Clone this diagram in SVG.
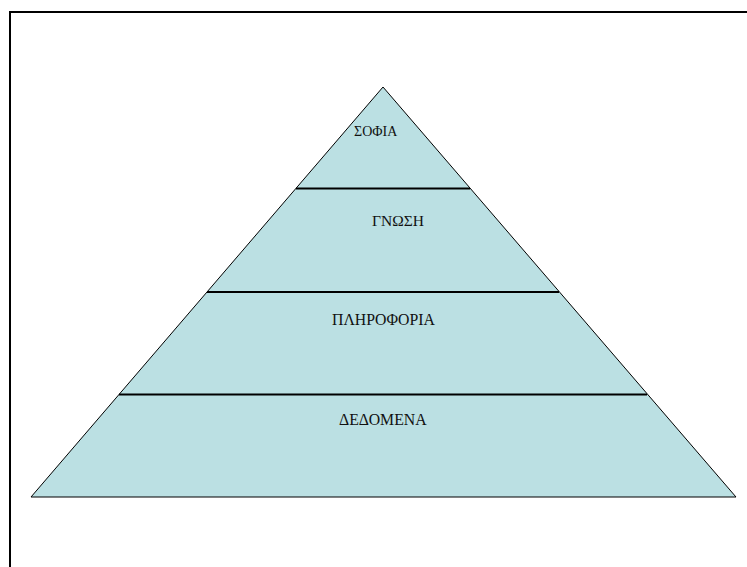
<svg xmlns="http://www.w3.org/2000/svg" width="747" height="567" viewBox="0 0 747 567">
<style>
.lbl{font-family:"Liberation Serif","Times New Roman",serif;fill:#111;text-anchor:start}
.div{stroke:#000;stroke-width:2}
</style>
<rect x="0" y="0" width="747" height="567" fill="#fff"/>
<rect id="frame" x="10" y="12" width="760" height="580" fill="none" stroke="#000" stroke-width="2"/>
<g id="pyramid">
<polygon points="383,87 736,497 31,497" fill="#BBE0E3" stroke="#000" stroke-width="1"/>
</g>
<g id="connectors">
<line class="div" x1="296" y1="188.5" x2="470" y2="188.5"/>
<line class="div" x1="207" y1="292" x2="559" y2="292"/>
<line class="div" x1="119" y1="394.5" x2="647" y2="394.5"/>
</g>
<g id="sofia"><text class="lbl" x="354" y="135.5" font-size="14">ΣΟΦΙΑ</text></g>
<g id="gnosi"><text class="lbl" x="372" y="225.5" font-size="15.5">ΓΝΩΣΗ</text></g>
<g id="pliroforia"><text class="lbl" x="332" y="325" font-size="15.8">ΠΛΗΡΟΦΟΡΙΑ</text></g>
<g id="dedomena"><text class="lbl" x="339" y="424.5" font-size="15.8">ΔΕΔΟΜΕΝΑ</text></g>
</svg>
